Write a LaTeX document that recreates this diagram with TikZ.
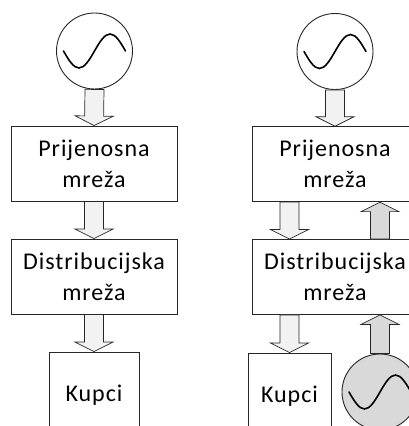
\documentclass[tikz,border=0pt]{standalone}
\usepackage{fontspec}
\setmainfont[LetterSpace=4]{Carlito}
\usetikzlibrary{calc}
\definecolor{flowlight}{HTML}{F2F2F2}
\definecolor{flowdark}{HTML}{D9D9D9}
\definecolor{edgecol}{HTML}{262626}
\tikzset{
  netbox/.style={draw=edgecol,line width=0.9pt,fill=white,minimum width=166pt,minimum height=75pt,align=center,inner sep=0pt,font=\fontsize{24}{31}\selectfont,execute at begin node={\rule{0pt}{22pt}}},
  loadbox/.style={netbox,minimum height=80pt},
  gencircle/.style={circle,draw=edgecol,line width=0.9pt,minimum size=76pt,inner sep=0pt},
  sinewave/.style={line width=1.6pt,line cap=round,black},
  powerflow/.style={draw=edgecol,line width=0.7pt,line join=miter,fill=#1,to path={
    ($(\tikztostart)!9.5pt!90:(\tikztotarget)$)
    -- ($(\tikztotarget)!9.5pt!(\tikztostart)!9.5pt!90:(\tikztotarget)$)
    -- ($(\tikztotarget)!9.5pt!(\tikztostart)!19pt!90:(\tikztotarget)$)
    -- (\tikztotarget)
    -- ($(\tikztotarget)!9.5pt!(\tikztostart)!19pt!-90:(\tikztotarget)$)
    -- ($(\tikztotarget)!9.5pt!(\tikztostart)!9.5pt!-90:(\tikztotarget)$)
    -- ($(\tikztostart)!9.5pt!-90:(\tikztotarget)$) -- cycle}},
  powerflow/.default=flowlight
}
\begin{document}
\begin{tikzpicture}[x=1pt,y=1pt]
    \useasboundingbox (0,0) rectangle (409,426);
    \clip (0,0) rectangle (409,426);

    \node[gencircle] (gen1) at (94.5,375) {};
    \node[netbox] (pn1) at (94,262.5) {Prijenosna\\mreža};
    \node[netbox] (dm1) at (94,149.5) {Distribucijska\\mreža};
    \node[loadbox,minimum width=90pt] (kup1) at (94,34) {Kupci};

    \node[gencircle] (gen2) at (335,374.5) {};
    \node[netbox] (pn2) at (335,261.8) {Prijenosna\\mreža};
    \node[netbox] (dm2) at (335,149) {Distribucijska\\mreža};
    \node[loadbox,minimum width=83pt] (kup2) at (289.5,33) {Kupci};
    \node[gencircle,fill=flowdark] (gen3) at (380,34) {};

    \draw[powerflow] (gen1.south) to (pn1.north);
    \draw[powerflow] (pn1.south) to (dm1.north);
    \draw[powerflow] (dm1.south) to (kup1.north);

    \draw[powerflow] (gen2.south) to (pn2.north);
    \draw[powerflow] (kup2.north |- pn2.south) to (kup2.north |- dm2.north);
    \draw[powerflow] (kup2.north |- dm2.south) to (kup2.north);
    \draw[powerflow=flowdark] (gen3.north) to (gen3.north |- dm2.south);
    \draw[powerflow=flowdark] (gen3.north |- dm2.north) to (gen3.north |- pn2.south);

    \foreach \g in {gen1,gen2,gen3}
        \draw[sinewave] ($(\g)+(-31,0)$) sin ($(\g)+(-15.5,-17)$) cos (\g.center) sin ($(\g)+(15.5,17)$) cos ($(\g)+(31,0)$);
\end{tikzpicture}
\end{document}
